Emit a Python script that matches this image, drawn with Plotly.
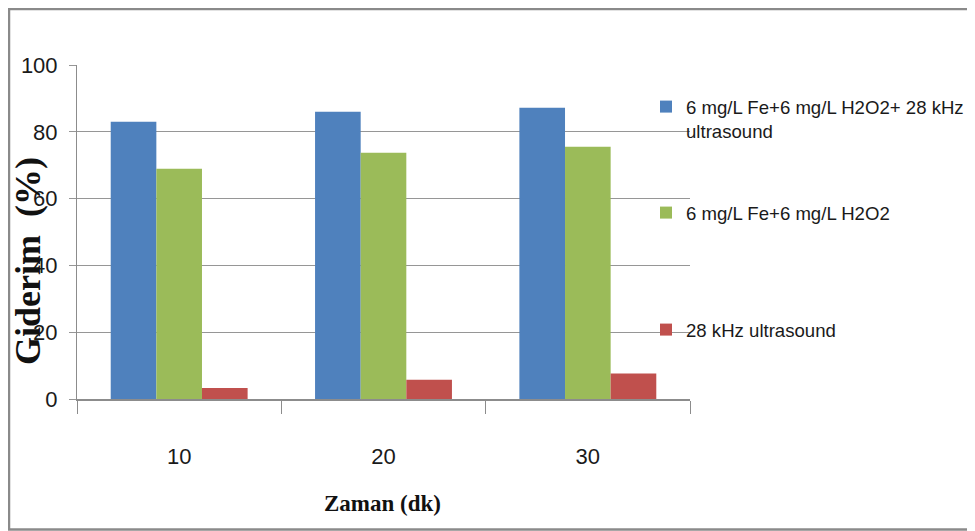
import plotly.graph_objects as go

# ---- data ----
categories = ["10", "20", "30"]
series_names = [
    "6 mg/L Fe+6 mg/L H2O2+ 28 kHz<br>ultrasound",
    "6 mg/L Fe+6 mg/L H2O2",
    "28 kHz ultrasound",
]
fe_h2o2_us = [83.0, 86.0, 87.2]
fe_h2o2 = [68.9, 73.7, 75.5]
us_only = [3.3, 5.8, 7.6]
y_ticks = [0, 20, 40, 60, 80, 100]
x_title = "Zaman (dk)"
y_title = "Giderim\u00a0\u00a0(%)"

colors = ["#4F81BD", "#9BBB59", "#C0504D"]

# ---- geometry helpers (page pixel -> paper / container) ----
# the page body has an 8px default margin, so the figure starts at (8, 8)
OX, OY = 8, 8
W, H = 975 - OX, 531 - OY
L, R, T, B = 77 - OX, 690 - OX, 65 - OY, 399 - OY
def px(x):
    return (x - OX - L) / (R - L)
def py(y):
    return (B - (y - OY)) / (B - T)
def cx(x):
    return (x - OX) / W
def cy(y):
    return 1 - (y - OY) / H

SANS = "Liberation Sans, Arial, sans-serif"
SERIF = "Liberation Serif, Times New Roman, serif"

fig = go.Figure()
values = [fe_h2o2_us, fe_h2o2, us_only]
legends = ["legend", "legend2", "legend3"]
for name, vals, col, lg in zip(series_names, values, colors, legends):
    fig.add_trace(go.Bar(
        x=categories, y=vals, name=name,
        marker=dict(color=col, line=dict(width=0)),
        legend=lg,
    ))

legend_common = dict(
    font=dict(family=SANS, size=18.6, color="#1a1a1a"),
    bgcolor="rgba(0,0,0,0)", borderwidth=0,
    xref="container", yref="container",
    xanchor="left", yanchor="middle",
)

fig.update_layout(
    width=W, height=H,
    margin=dict(l=L, r=W - R, t=T, b=H - B, pad=0, autoexpand=False),
    paper_bgcolor="white", plot_bgcolor="white",
    barmode="group", bargap=0.33, bargroupgap=0,
    showlegend=True,
    legend=dict(x=cx(646), y=cy(119), valign="top", **legend_common),
    legend2=dict(x=cx(646), y=cy(213), **legend_common),
    legend3=dict(x=cx(646), y=cy(330), **legend_common),
    xaxis=dict(
        type="category",
        showgrid=False,
        showline=True, linecolor="#8c8c8c", linewidth=1.5,
        ticks="outside", tickson="boundaries", ticklen=13,
        tickcolor="#8c8c8c", tickwidth=1,
        tickfont=dict(family=SANS, size=22, color="#1a1a1a"),
        ticklabelstandoff=37,
    ),
    yaxis=dict(
        range=[0, 100],
        tickvals=y_ticks,
        showgrid=True, gridcolor="#969696", gridwidth=1.3,
        zeroline=False,
        showline=True, linecolor="#8c8c8c", linewidth=1,
        ticks="outside", ticklen=7, tickcolor="#969696", tickwidth=1.3,
        tickfont=dict(family=SANS, size=22, color="#1a1a1a"),
        ticklabelstandoff=7,
    ),
    annotations=[
        dict(text=x_title, xref="paper", yref="paper",
             x=px(382), y=py(503), xanchor="center", yanchor="middle",
             showarrow=False,
             font=dict(family=SERIF, size=23, color="#111111", weight="bold")),
        dict(text=y_title, xref="paper", yref="paper", textangle=-90,
             x=px(28), y=py(261), xanchor="center", yanchor="middle",
             showarrow=False,
             font=dict(family=SERIF, size=36, color="#111111", weight="bold")),
    ],
    shapes=[
        dict(type="rect", xref="paper", yref="paper",
             x0=px(9), x1=px(972), y0=py(529.5), y1=py(9),
             line=dict(color="#8a8a8a", width=2.5), fillcolor="rgba(0,0,0,0)",
             layer="below"),
    ],
)

fig.write_html("out.html")
